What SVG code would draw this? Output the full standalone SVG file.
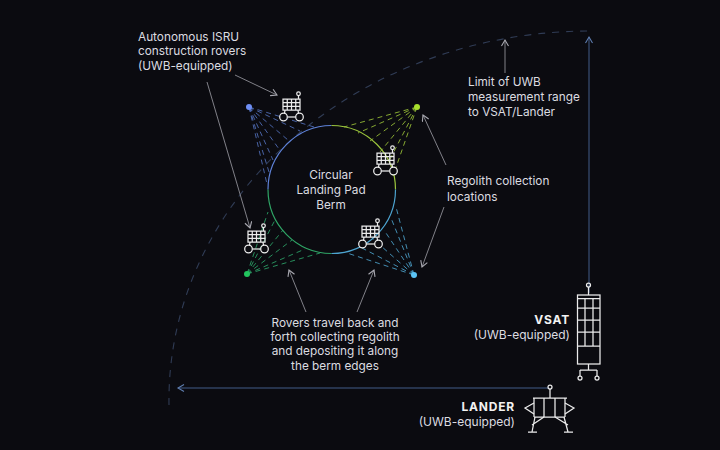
<svg xmlns="http://www.w3.org/2000/svg" width="720" height="450" viewBox="0 0 720 450">
<style>
text{font-family:Inter,"Liberation Sans",sans-serif;font-size:11.8px;fill:#dcdce0}
.b{font-weight:700;font-size:12px;fill:#f2f2f2;letter-spacing:.8px}
.c{text-anchor:middle}
.e{text-anchor:end}
.w{font-size:12px}
.ic{fill:none;stroke:#ececec;stroke-width:1.250}
.an{fill:none;stroke:#8f8f96;stroke-width:.9;marker-end:url(#ga)}
.rg{fill:none;stroke:#435c88;stroke-width:1;marker-end:url(#ba)}
.f{fill:none;stroke-width:.9;stroke-dasharray:5 4}
</style>
<defs>
<marker id="ga" markerUnits="userSpaceOnUse" markerWidth="10" markerHeight="10" refX="7" refY="4" orient="auto"><path d="M1 .5L7 4L1 7.500" fill="none" stroke="#a8a8b0" stroke-width="1.100"/></marker>
<marker id="ba" markerUnits="userSpaceOnUse" markerWidth="10" markerHeight="10" refX="7" refY="4" orient="auto"><path d="M1 .5L7 4L1 7.500" fill="none" stroke="#5f7eb0" stroke-width="1.100"/></marker>
<g id="rover" class="ic">
<path d="M0-11H17V0H0ZM0-7.300H17M0-3.700H17M4.250-11V0M8.500-11V0M12.750-11V0"/>
<path d="M15.500-11V-14.500"/><circle cx="15.500" cy="-16.300" r="1.800"/>
<path d="M2 0L1.500 3.500M15 0L15.500 3.500"/>
<path d="M4.300 7H12.700"/>
<circle cx="0.500" cy="7" r="3.800" fill="#0b0b10"/><circle cx="16.500" cy="7" r="3.800" fill="#0b0b10"/>
</g>
</defs>
<rect width="720" height="450" fill="#0b0b10"/>
<g id="connectors">
<path d="M169 405A421 369 0 0 1 590 31" fill="none" stroke="#303c55" stroke-width="1.100" stroke-dasharray="7 7"/>
<path class="rg" d="M589 293V37"/>
<path class="rg" d="M548 388H178"/>
<path class="an" d="M505 73V40"/>
<path class="an" d="M235 75L277 95"/>
<path class="an" d="M207 82L250 228"/>
<path class="an" d="M446 165L423 115"/>
<path class="an" d="M444 207L422 267"/>
<path class="an" d="M306 312L289 270"/>
<path class="an" d="M357 312L374 270"/>
<g class="f" stroke="#4f6cb4">
<path d="M249 107L314 127M249 107L300 131M249 107L288 140M249 107L279 149M249 107L273 160M249 107L269 172M249 107L267 184"/>
</g>
<g class="f" stroke="#94ba36">
<path d="M417 107L344 127M417 107L358 133M417 107L370 141M417 107L380 152M417 107L388 163M417 107L393 176"/>
</g>
<g class="f" stroke="#2a9c64">
<path d="M247 274L268 212M247 274L275 220M247 274L283 230M247 274L292 240M247 274L305 249M247 274L320 253"/>
</g>
<g class="f" stroke="#4a9cc4">
<path d="M414 275L347 253M414 275L362 248M414 275L373 239M414 275L384 230M414 275L391 218M414 275L396 207"/>
</g>
</g>
<g id="berm" fill="none" stroke-width="1.200">
<path d="M268 189.500A64 64 0 0 1 331.500 125.500" stroke="#5f82d8"/>
<path d="M331.500 125.500A64 64 0 0 1 395.500 189.500" stroke="#9cc63c"/>
<path d="M268 189.500A64 64 0 0 0 331.500 253.500" stroke="#2fa566"/>
<path d="M331.500 253.500A64 64 0 0 0 395.500 189.500" stroke="#4da4d0"/>
</g>
<g id="loc-nw"><circle cx="249" cy="107" r="3" fill="#6f8ff5"/></g>
<g id="loc-ne"><circle cx="417" cy="107" r="3" fill="#a8e02c"/></g>
<g id="loc-sw"><circle cx="247" cy="274" r="3" fill="#22c55e"/></g>
<g id="loc-se"><circle cx="414" cy="275" r="3" fill="#5cc4f5"/></g>
<g id="rover-1"><use href="#rover" x="283" y="110"/></g>
<g id="rover-2"><use href="#rover" x="377" y="164"/></g>
<g id="rover-3"><use href="#rover" x="248" y="242"/></g>
<g id="rover-4"><use href="#rover" x="362" y="237"/></g>
<g id="vsat" class="ic">
<circle cx="588.500" cy="285" r="2"/><path d="M588.500 287V295"/>
<rect x="577.500" y="295" width="22.500" height="69"/>
<path d="M577.500 298.500H600M577.500 308H600M577.500 320H600M577.500 332H600M577.500 346H600M585 298.500V346M593 298.500V346"/>
<path d="M588.500 364V370M580 370H597M580 370V376M597 370V376"/>
<circle cx="580" cy="378" r="2"/><circle cx="597" cy="378" r="2"/>
</g>
<g id="lander" class="ic">
<circle cx="550" cy="387" r="2"/><path d="M550 389V398"/>
<path d="M533 398H567M534 398V417M565 398V417M544 398V417M555 398V417M534 417H565"/>
<path d="M534 403L525 408L534 414M565 403L574 408L565 414"/>
<path d="M535 417L532 432M564 417L568 432M544 417L532 425M555 417L568 425M528 432H537M564 432H573"/>
</g>
<g id="labels">
<text x="138" y="41">Autonomous ISRU</text><text x="138" y="55">construction rovers</text><text x="138" y="70">(UWB-equipped)</text>
<text x="468" y="86">Limit of UWB</text><text x="468" y="101">measurement range</text><text x="468" y="116">to VSAT/Lander</text>
<text class="c" x="331" y="179">Circular</text><text class="c" x="331" y="194">Landing Pad</text><text class="c" x="331" y="209">Berm</text>
<text x="447" y="185">Regolith collection</text><text x="447" y="201">locations</text>
<text class="c" x="335" y="327">Rovers travel back and</text><text class="c" x="335" y="341">forth collecting regolith</text><text class="c" x="335" y="355">and depositing it along</text><text class="c" x="335" y="370">the berm edges</text>
<text class="b e" x="570" y="324">VSAT</text><text class="e w" x="570" y="339">(UWB-equipped)</text>
<text class="b e" x="515" y="411">LANDER</text><text class="e w" x="515" y="426">(UWB-equipped)</text>
</g>
</svg>
